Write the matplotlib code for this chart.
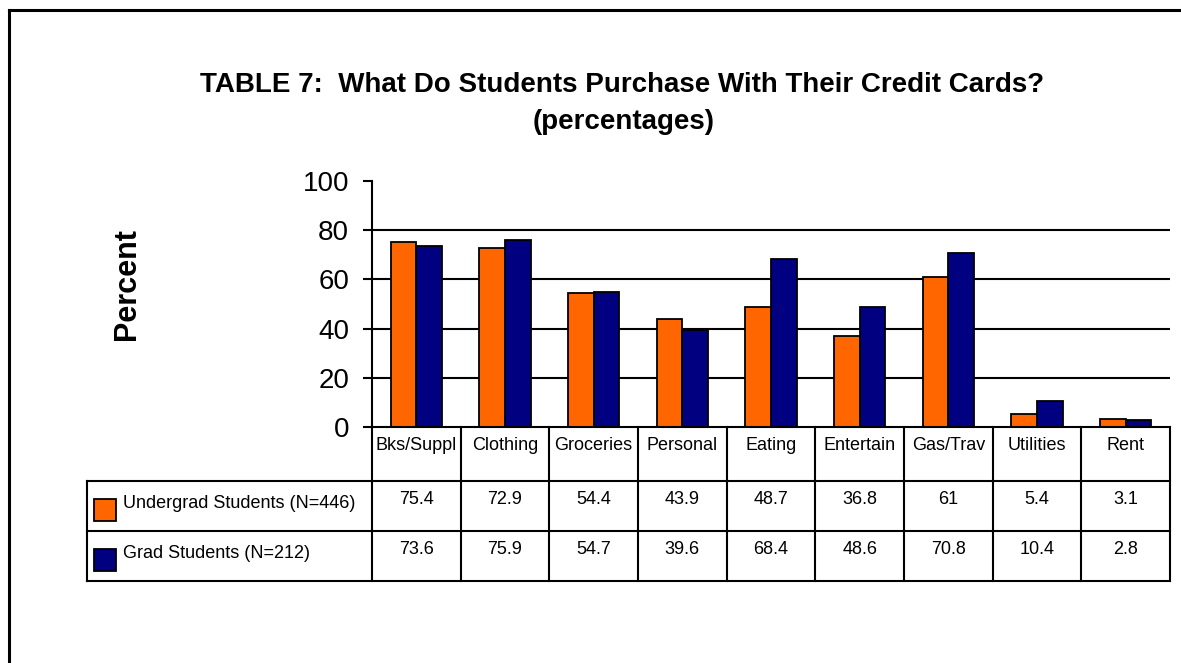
import numpy as np
import matplotlib
matplotlib.use("Agg")
import matplotlib.pyplot as plt
from matplotlib.patches import Rectangle
from matplotlib.lines import Line2D

# ---- data ----
categories = ["Bks/Suppl", "Clothing", "Groceries", "Personal", "Eating",
              "Entertain", "Gas/Trav", "Utilities", "Rent"]
undergrad = [75.4, 72.9, 54.4, 43.9, 48.7, 36.8, 61, 5.4, 3.1]
grad = [73.6, 75.9, 54.7, 39.6, 68.4, 48.6, 70.8, 10.4, 2.8]
series_labels = ["Undergrad Students (N=446)", "Grad Students (N=212)"]
yticks = [0, 20, 40, 60, 80, 100]

ORANGE = "#FF6600"
NAVY = "#000080"

plt.rcParams["font.family"] = ["Liberation Sans", "DejaVu Sans"]

W, H = 1181, 663
fig = plt.figure(figsize=(W / 100, H / 100), dpi=100)


def fx(px):
    return px / W


def fy(py):
    return 1 - py / H


# layout (pixels)
AX_L, AX_R, AX_T, AX_B = 372, 1170, 181, 427
TAB_L, TAB_B = 87, 581
HEAD_H, ROW_H = 54, 50
TABLE_FS = 13

# ---- chart ----
ax = fig.add_axes([fx(AX_L), fy(AX_B), fx(AX_R) - fx(AX_L), fy(AX_T) - fy(AX_B)])
n = len(categories)
xc = np.arange(n) + 0.5
bw = 0.29
ax.bar(xc - bw / 2, undergrad, bw, color=ORANGE, edgecolor="black", linewidth=1.3, zorder=2)
ax.bar(xc + bw / 2, grad, bw, color=NAVY, edgecolor="black", linewidth=1.3, zorder=2)
ax.set_xlim(0, n)
ax.set_ylim(0, 100)
for v in yticks[1:-1]:
    ax.axhline(v, color="black", linewidth=1.5, zorder=1)
ax.set_yticks(yticks)
ax.set_yticklabels([str(t) for t in yticks], fontsize=20)
ax.tick_params(axis="y", length=6.5, width=1.5, pad=10, direction="out")
ax.set_xticks([])
for s in ("top", "right"):
    ax.spines[s].set_visible(False)
for s in ("left", "bottom"):
    ax.spines[s].set_linewidth(1.5)

fig.text(fx(127), fy(284), "Percent", rotation=90, fontsize=22, fontweight="bold",
         ha="center", va="center")

# ---- data table under the chart ----
cat_w = (AX_R - AX_L) / n
label_w = (AX_L - TAB_L) / cat_w
tab_h = HEAD_H + 2 * ROW_H
tab = fig.add_axes([fx(TAB_L), fy(TAB_B), fx(AX_R) - fx(TAB_L), fy(AX_B) - fy(TAB_B)])
tab.set_xlim(-label_w, n)
tab.set_ylim(-tab_h, 0)
tab.axis("off")

lw = 1.5
for i in range(n + 1):
    tab.add_line(Line2D([i, i], [0, -tab_h], color="black", lw=lw, clip_on=False))
tab.add_line(Line2D([-label_w, -label_w], [-HEAD_H, -tab_h], color="black", lw=lw, clip_on=False))
for yb in (-HEAD_H, -HEAD_H - ROW_H, -tab_h):
    tab.add_line(Line2D([-label_w, n], [yb, yb], color="black", lw=lw, clip_on=False))

for i, c in enumerate(categories):
    tab.text(i + 0.5, -19, c, ha="center", va="center", fontsize=TABLE_FS)

sq = 22 / cat_w
for r, (lab, vals, col) in enumerate(zip(series_labels, [undergrad, grad], [ORANGE, NAVY])):
    top = -HEAD_H - r * ROW_H
    tab.add_patch(Rectangle((-label_w + 7 / cat_w, top - 40), sq, 22,
                            facecolor=col, edgecolor="black", linewidth=1.3, clip_on=False))
    tab.text(-label_w + 36 / cat_w, top - 22, lab, ha="left", va="center", fontsize=TABLE_FS)
    for i, v in enumerate(vals):
        tab.text(i + 0.5, top - 18, f"{v:g}", ha="center", va="center", fontsize=TABLE_FS)

# ---- title ----
fig.text(fx(622), fy(92), "TABLE 7:  What Do Students Purchase With Their Credit Cards?",
         ha="center", va="baseline", fontsize=20, fontweight="bold")
fig.text(fx(624), fy(129), "(percentages)", ha="center", va="baseline",
         fontsize=20, fontweight="bold")

# ---- outer frame ----
fig.add_artist(Line2D([fx(9), fx(9)], [fy(10), 0], color="black", lw=2.2))
fig.add_artist(Line2D([fx(9), 1], [fy(10), fy(10)], color="black", lw=2.2))

fig.savefig("out.png", dpi=100)
